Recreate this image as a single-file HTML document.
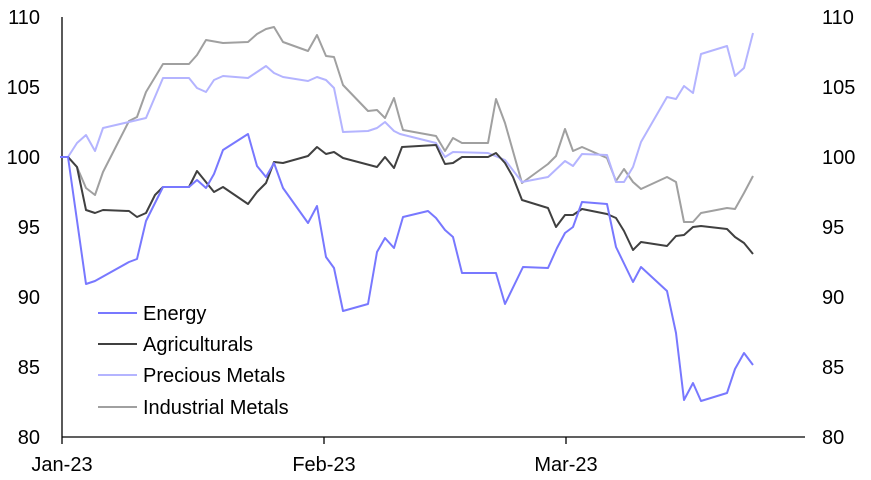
<!DOCTYPE html>
<html><head><style>body{margin:0;background:#fff}svg{display:block}text{font-family:"Liberation Sans",Arial,sans-serif;font-size:20px;fill:#000}</style></head><body>
<svg width="871" height="480" xmlns="http://www.w3.org/2000/svg">
<g stroke="#000" stroke-width="1.3">
<line x1="62" y1="17" x2="62" y2="437"/>
<line x1="62" y1="437" x2="805" y2="437"/>
<line x1="62" y1="437" x2="62" y2="444"/><line x1="324" y1="437" x2="324" y2="444"/><line x1="566" y1="437" x2="566" y2="444"/>
</g>
<g text-anchor="end">
<text x="40" y="24">110</text><text x="40" y="94">105</text><text x="40" y="164">100</text><text x="40" y="234">95</text><text x="40" y="304">90</text><text x="40" y="374">85</text><text x="40" y="444">80</text>
</g>
<g text-anchor="start">
<text x="822" y="24">110</text><text x="822" y="94">105</text><text x="822" y="164">100</text><text x="822" y="234">95</text><text x="822" y="304">90</text><text x="822" y="374">85</text><text x="822" y="444">80</text>
</g>
<g text-anchor="middle">
<text x="62" y="471">Jan-23</text><text x="324" y="471">Feb-23</text><text x="566" y="471">Mar-23</text>
</g>
<g fill="none" stroke-width="2" stroke-linejoin="round">
<polyline stroke="#a0a0a0" points="60,157 68,157 77,167 86,188 95,195 103,172 129,121 137,117 146,92 163,64 189,64 197,55 206,40 223,43 248,42 257,34 266,29 274,27 283,42 308,51 317,35 326,56 334,57 343,85 368,111 377,110 385,118 394,98 400,120 403,130 436,136 445,151 453,138 462,143 488,143 496,99 505,123 522,183 548,164 556,156 565,129 573,151 582,147 607,158 616,181 624,169 633,182 641,189 667,177 676,182 684,222 693,222 701,213 727,208 735,209 744,193 753,176"/>
<polyline stroke="#b4b4ff" points="60,157 68,157 77,143 86,135 95,151 103,128 146,118 163,78 189,78 197,88 206,92 214,80 223,76 248,78 266,66 274,73 283,77 308,81 317,77 326,80 334,88 343,132 368,131 377,128 385,122 394,131 400,134 436,143 445,157 453,152 488,153 505,160 522,182 548,177 565,161 573,166 582,154 607,155 616,182 624,182 633,167 641,142 667,97 676,99 684,86 693,93 701,54 727,46 735,76 744,68 753,33"/>
<polyline stroke="#404040" points="60,157 68,157 77,167 86,210 95,213 103,210 129,211 137,217 146,213 155,195 163,187 189,187 197,171 214,192 223,187 248,204 257,192 266,183 274,162 283,163 308,156 317,147 326,154 334,152 343,158 377,167 385,157 394,168 402,147 436,145 445,164 453,163 462,157 488,157 496,153 505,163 513,177 522,200 548,208 556,227 565,215 573,215 582,209 607,214 616,218 624,231 633,250 641,242 667,246 676,236 684,235 693,227 701,226 727,229 735,237 744,243 753,254"/>
<polyline stroke="#7878ff" points="60,157 68,157 86,284 95,281 129,262 137,259 146,221 163,187 189,187 197,180 206,188 214,174 223,150 248,134 257,166 266,177 274,163 283,188 308,223 317,206 326,257 334,268 343,311 368,304 377,252 385,238 394,248 403,217 428,211 436,218 445,230 453,237 462,273 496,273 505,304 523,267 548,268 557,248 565,233 573,227 582,202 607,204 616,247 633,282 641,267 667,291 676,333 684,400 693,383 701,401 727,393 735,369 744,353 753,365"/>
<line x1="98" y1="313" x2="137" y2="313" stroke="#7878ff"/>
<line x1="98" y1="344" x2="137" y2="344" stroke="#404040"/>
<line x1="98" y1="375" x2="137" y2="375" stroke="#b4b4ff"/>
<line x1="98" y1="407" x2="137" y2="407" stroke="#a0a0a0"/>
</g>
<text x="143" y="320">Energy</text>
<text x="143" y="351">Agriculturals</text>
<text x="143" y="382">Precious Metals</text>
<text x="143" y="414">Industrial Metals</text>
</svg>
</body></html>
